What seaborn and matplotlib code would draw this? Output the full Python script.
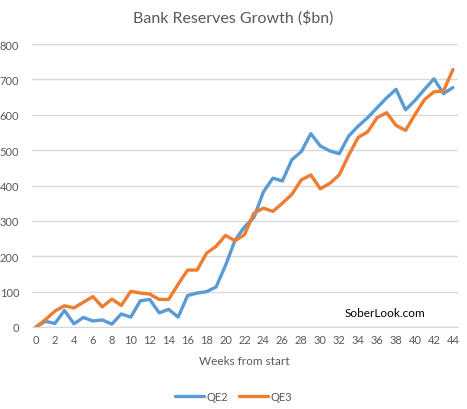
import pandas as pd
import seaborn as sns
import matplotlib.pyplot as plt

weeks = list(range(45))
qe2 = [0, 16, 10, 47, 9, 27, 17, 20, 8, 37, 28, 74, 78, 40, 50, 28, 89, 96, 100, 113,
       174, 245, 283, 310, 382, 421, 413, 473, 496, 547, 512, 498, 490, 540, 568, 592,
       620, 648, 672, 614, 641, 672, 702, 660, 677]
qe3 = [0, 21, 45, 60, 54, 70, 86, 57, 79, 61, 101, 96, 93, 78, 78, 121, 161, 161, 209, 228,
       259, 244, 261, 322, 336, 327, 350, 375, 416, 430, 391, 406, 430, 486, 536, 552,
       592, 606, 570, 556, 601, 643, 665, 667, 728]
series_names = ["QE2", "QE3"]
palette = {"QE2": "#5B9BD5", "QE3": "#ED7D31"}

df = pd.DataFrame({
    "week": weeks * 2,
    "value": qe2 + qe3,
    "series": ["QE2"] * len(weeks) + ["QE3"] * len(weeks),
})

sns.set_style("white")
plt.rcParams["font.family"] = ["Lato", "DejaVu Sans"]
grey = "#595959"

fig = plt.figure(figsize=(4.67, 4.10), dpi=100)
ax = fig.add_axes([0.068, 0.2, 0.912, 0.69])
sns.lineplot(data=df, x="week", y="value", hue="series", hue_order=series_names,
             palette=palette, linewidth=2.4, ax=ax, legend=False)

ax.set_xlim(-0.45, 44.5)
ax.set_ylim(0, 800)
ax.set_xticks(range(0, 45, 2))
ax.set_yticks(range(0, 801, 100))
ax.yaxis.grid(True, color="#D9D9D9", linewidth=1)
ax.set_axisbelow(True)
for s in ["left", "right", "top"]:
    ax.spines[s].set_visible(False)
ax.spines["bottom"].set_color("#D9D9D9")
ax.tick_params(axis="both", length=0, labelsize=8, colors=grey, pad=5)
ax.tick_params(axis="y", pad=9)
ax.set_xlabel("Weeks from start", fontsize=8.5, color=grey, labelpad=7)
ax.set_ylabel("")
fig.text(0.5, 0.955, "Bank Reserves Growth ($bn)", ha="center", va="center",
         fontsize=11.5, color=grey)
ax.text(0.83, 0.05, "SoberLook.com", transform=ax.transAxes, ha="center",
        va="center", fontsize=8.5, color="black")

handles = [plt.Line2D([], [], color=palette[n], linewidth=2.4) for n in series_names]
fig.legend(handles, series_names, loc="center", bbox_to_anchor=(0.5, 0.03), ncol=2,
           frameon=False, fontsize=8, labelcolor=grey, handlelength=2.6,
           handletextpad=0.2, columnspacing=1.0)

fig.savefig("out.png", dpi=100)
